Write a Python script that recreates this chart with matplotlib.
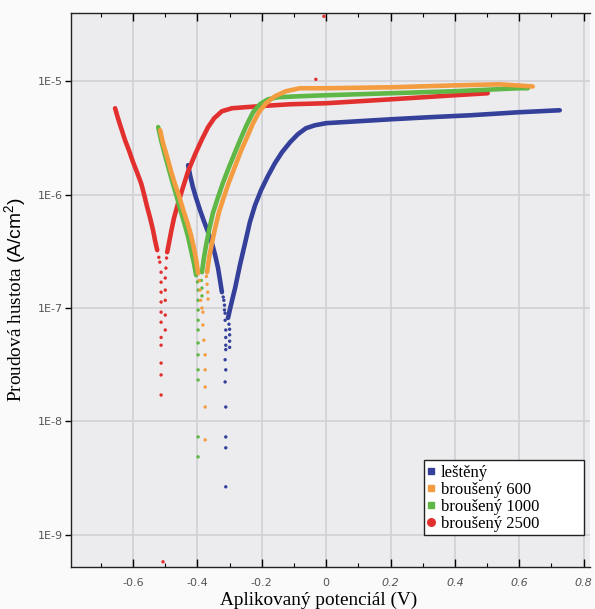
import numpy as np
import matplotlib.pyplot as plt
from matplotlib.lines import Line2D
from matplotlib.patches import Rectangle
from matplotlib.ticker import FixedLocator, MultipleLocator

plt.rcParams["mathtext.fontset"] = "custom"
plt.rcParams["mathtext.sf"] = "Liberation Sans"
plt.rcParams["mathtext.rm"] = "Liberation Sans"

# --- data (potential in V, current density in A/cm2) ---

# lesteny (blue)
blue_cat_E = [-0.429, -0.423, -0.414, -0.404, -0.392, -0.380, -0.367, -0.355, -0.345,
              -0.336, -0.330, -0.324]
blue_cat_i = [1.82e-6, 1.49e-6, 1.16e-6, 9.3e-7, 7.3e-7, 5.85e-7, 4.68e-7, 3.74e-7, 2.93e-7,
              2.25e-7, 1.77e-7, 1.38e-7]
blue_an_E = [-0.305, -0.296, -0.283, -0.268, -0.252, -0.237, -0.221, -0.202, -0.181, -0.159,
             -0.137, -0.112, -0.088, -0.063, -0.035, 0.0, 0.105, 0.201, 0.322, 0.447,
             0.599, 0.726]
blue_an_i = [8.17e-8, 1.06e-7, 1.50e-7, 2.39e-7, 3.74e-7, 5.73e-7, 8.07e-7, 1.10e-6, 1.46e-6,
             1.90e-6, 2.37e-6, 2.90e-6, 3.41e-6, 3.85e-6, 4.09e-6, 4.27e-6, 4.45e-6, 4.62e-6,
             4.82e-6, 5.01e-6, 5.33e-6, 5.55e-6]
blue_dot_E = [-0.320, -0.318, -0.316, -0.316, -0.314, -0.314, -0.312, -0.312, -0.312, -0.312,
              -0.314, -0.312, -0.314, -0.312, -0.312, -0.312, -0.312,
              -0.302, -0.300, -0.300, -0.300, -0.300]
blue_dot_i = [1.25e-7, 1.17e-7, 1.06e-7, 9.6e-8, 9.0e-8, 7.8e-8, 6.4e-8, 5.5e-8, 4.7e-8, 4.3e-8,
              3.5e-8, 2.85e-8, 2.23e-8, 1.34e-8, 7.3e-9, 5.85e-9, 2.65e-9,
              7.2e-8, 6.5e-8, 5.8e-8, 5.1e-8, 4.5e-8]

# brouseny 600 (orange)
orange_cat_E = [-0.516, -0.507, -0.494, -0.482, -0.470, -0.457, -0.445, -0.432, -0.420,
                -0.411, -0.404, -0.398]
orange_cat_i = [3.70e-6, 2.84e-6, 2.14e-6, 1.61e-6, 1.24e-6, 9.7e-7, 7.45e-7, 5.73e-7, 4.40e-7,
                3.38e-7, 2.65e-7, 2.03e-7]
orange_an_E = [-0.370, -0.364, -0.355, -0.345, -0.333, -0.317, -0.302, -0.283, -0.265, -0.246,
               -0.227, -0.209, -0.187, -0.159, -0.125, -0.081, 0.0, 0.201, 0.400, 0.540, 0.642]
orange_an_i = [2.07e-7, 2.76e-7, 3.74e-7, 5.07e-7, 7.02e-7, 9.7e-7, 1.29e-6, 1.78e-6, 2.42e-6,
               3.21e-6, 4.27e-6, 5.33e-6, 6.40e-6, 7.38e-6, 8.17e-6, 8.68e-6, 8.68e-6, 8.85e-6,
               9.2e-6, 9.4e-6, 9.0e-6]
orange_dot_E = [-0.394, -0.392, -0.390, -0.386, -0.383, -0.383, -0.380, -0.376, -0.376, -0.376,
                -0.376, -0.376, -0.372, -0.370, -0.368, -0.367]
orange_dot_i = [1.75e-7, 1.44e-7, 1.17e-7, 1.0e-7, 9.2e-8, 7.08e-8, 5.2e-8, 3.86e-8, 2.85e-8,
                2.01e-8, 1.34e-8, 6.87e-9, 1.9e-7, 1.62e-7, 1.38e-7, 1.2e-7]

# brouseny 1000 (green)
green_cat_E = [-0.522, -0.513, -0.501, -0.488, -0.476, -0.463, -0.451, -0.439, -0.429,
               -0.420, -0.411, -0.404]
green_cat_i = [3.94e-6, 3.02e-6, 2.23e-6, 1.64e-6, 1.24e-6, 9.31e-7, 7.02e-7, 5.38e-7, 4.23e-7,
               3.24e-7, 2.49e-7, 1.95e-7]
green_an_E = [-0.386, -0.380, -0.373, -0.364, -0.352, -0.336, -0.320, -0.302, -0.283, -0.265,
              -0.246, -0.227, -0.206, -0.181, -0.150, -0.081, 0.0, 0.201, 0.400, 0.599, 0.627]
green_an_i = [2.07e-7, 2.76e-7, 3.59e-7, 4.86e-7, 6.87e-7, 9.5e-7, 1.29e-6, 1.75e-6, 2.37e-6,
              3.15e-6, 4.18e-6, 5.33e-6, 6.27e-6, 6.93e-6, 7.23e-6, 7.38e-6, 7.53e-6, 7.84e-6,
              8.17e-6, 8.68e-6, 8.68e-6]
green_dot_E = [-0.400, -0.398, -0.398, -0.398, -0.398, -0.398, -0.398, -0.398, -0.398,
               -0.398, -0.398, -0.398, -0.388, -0.386, -0.386]
green_dot_i = [1.7e-7, 1.44e-7, 1.17e-7, 9.6e-8, 7.8e-8, 6.4e-8, 4.92e-8, 3.86e-8, 2.85e-8,
               2.32e-8, 7.3e-9, 4.87e-9, 1.75e-7, 1.5e-7, 1.28e-7]

# brouseny 2500 (red)
red_cat_E = [-0.656, -0.647, -0.637, -0.625, -0.612, -0.600, -0.588, -0.575, -0.566, -0.557,
             -0.547, -0.538, -0.532, -0.525]
red_cat_i = [5.78e-6, 4.72e-6, 3.85e-6, 3.02e-6, 2.42e-6, 1.93e-6, 1.58e-6, 1.26e-6, 1.01e-6,
             7.92e-7, 6.21e-7, 4.86e-7, 3.97e-7, 3.24e-7]
red_an_E = [-0.494, -0.488, -0.482, -0.473, -0.460, -0.445, -0.429, -0.407, -0.386, -0.367,
            -0.348, -0.324, -0.293, -0.252, -0.206, -0.112, 0.0, 0.201, 0.400, 0.502]
red_an_i = [3.11e-7, 3.81e-7, 4.68e-7, 6.21e-7, 8.41e-7, 1.16e-6, 1.61e-6, 2.28e-6, 3.08e-6,
            3.94e-6, 4.72e-6, 5.44e-6, 5.78e-6, 5.90e-6, 6.03e-6, 6.27e-6, 6.40e-6, 6.93e-6,
            7.53e-6, 7.84e-6]
red_dot_E = [-0.520, -0.517, -0.513, -0.513, -0.513, -0.513, -0.513, -0.513, -0.513, -0.513,
             -0.513, -0.513, -0.513, -0.496, -0.498, -0.500, -0.500, -0.500, -0.500, -0.500,
             -0.507, -0.032, -0.007]
red_dot_i = [2.8e-7, 2.54e-7, 2.07e-7, 1.69e-7, 1.38e-7, 1.13e-7, 9.2e-8, 7.5e-8, 5.5e-8,
             4.7e-8, 3.27e-8, 2.57e-8, 1.71e-8, 2.76e-7, 2.25e-7, 1.84e-7, 1.44e-7, 1.17e-7,
             8.67e-8, 6.4e-8, 5.78e-10, 1.04e-5, 3.74e-5]

labels = ["leštěný", "broušený 600", "broušený 1000", "broušený 2500"]
colors = ["#34409a", "#f39c40", "#5fb745", "#e2302f"]

x_ticks = [-0.6, -0.4, -0.2, 0, 0.2, 0.4, 0.6, 0.8]
x_ticklabels = ["-0.6", "-0.4", "-0.2", "0", "0.2", "0.4", "0.6", "0.8"]
y_ticks = [1e-9, 1e-8, 1e-7, 1e-6, 1e-5]
y_ticklabels = ["1E-9", "1E-8", "1E-7", "1E-6", "1E-5"]

series = [
    (blue_cat_E, blue_cat_i, blue_an_E, blue_an_i, blue_dot_E, blue_dot_i),
    (red_cat_E, red_cat_i, red_an_E, red_an_i, red_dot_E, red_dot_i),
    (green_cat_E, green_cat_i, green_an_E, green_an_i, green_dot_E, green_dot_i),
    (orange_cat_E, orange_cat_i, orange_an_E, orange_an_i, orange_dot_E, orange_dot_i),
]
series_colors = [colors[0], colors[3], colors[2], colors[1]]

fig = plt.figure(figsize=(5.95, 6.09), dpi=100)
fig.patch.set_facecolor("#fafafa")
ax = fig.add_axes([71 / 595, 1 - 567 / 609, (590 - 71) / 595, (567 - 13) / 609])
ax.set_facecolor("#ececef")

for (cE, ci, aE, ai, dE, di), c in zip(series, series_colors):
    ax.plot(cE, ci, color=c, lw=3.3, solid_capstyle="round", solid_joinstyle="round", zorder=3)
    ax.plot(aE, ai, color=c, lw=3.3, solid_capstyle="round", solid_joinstyle="round", zorder=3)
    ax.scatter(dE, di, s=6, color=c, edgecolors="none", zorder=3)

ax.set_yscale("log")
ax.set_xlim(-0.793, 0.82)
ax.set_ylim(5.2e-10, 4e-5)

ax.xaxis.set_major_locator(FixedLocator(x_ticks))
ax.xaxis.set_minor_locator(MultipleLocator(0.1))
ax.set_xticklabels(x_ticklabels)
ax.yaxis.set_major_locator(FixedLocator(y_ticks))
ax.yaxis.set_minor_locator(FixedLocator([]))
ax.set_yticklabels(y_ticklabels)

for lab, v in zip(ax.get_xticklabels(), x_ticks):
    if v > 0:
        lab.set_style("italic")

ax.tick_params(axis="x", which="both", direction="in", top=True, bottom=True,
               labelsize=8, labelcolor="#555555", pad=8)
ax.tick_params(axis="x", which="major", length=6, width=1)
ax.tick_params(axis="x", which="minor", length=3, width=0.8)
ax.tick_params(axis="y", which="major", direction="out", length=4, width=1,
               labelsize=8, labelcolor="#555555", pad=2)

ax.grid(True, which="major", color="#d0d0d5", lw=1.2)
ax.set_axisbelow(True)
ax.spines["right"].set_visible(False)
for s in ["left", "bottom", "top"]:
    ax.spines[s].set_color("#222222")
    ax.spines[s].set_linewidth(1.0)

ax.set_xlabel("Aplikovaný potenciál (V)", family="Liberation Serif", fontsize=13.9)
ax.xaxis.set_label_coords((319 - 71) / 519, -0.045)
ax.set_ylabel(r"Proudová hustota $\mathsf{(A/cm^2)}$", family="Liberation Serif",
              fontsize=13.9)
ax.yaxis.set_label_coords(-0.083, (567 - 300) / 554)

# legend with a wider box, as in the original
x0, y0 = (424 - 71) / 519, (567 - 535) / 554
x1, y1 = (584 - 71) / 519, (567 - 460) / 554
ax.add_patch(Rectangle((x0, y0), x1 - x0, y1 - y0, transform=ax.transAxes,
                       facecolor="white", edgecolor="#222222", lw=1.0, zorder=5))
handles = [
    Line2D([], [], ls="none", marker="s", ms=4.5, color=colors[0]),
    Line2D([], [], ls="none", marker="s", ms=4.5, color=colors[1]),
    Line2D([], [], ls="none", marker="s", ms=4.5, color=colors[2]),
    Line2D([], [], ls="none", marker="o", ms=5.5, color=colors[3]),
]
leg = ax.legend(handles, labels, loc="upper left", bbox_to_anchor=(x0, y1 - 0.004),
                prop={"family": "Liberation Serif", "size": 12}, frameon=False,
                handlelength=0.5, handletextpad=0.35, labelspacing=0.06,
                borderpad=0.15, borderaxespad=0)
leg.set_zorder(6)

fig.savefig("out.png", dpi=100, facecolor=fig.get_facecolor())
